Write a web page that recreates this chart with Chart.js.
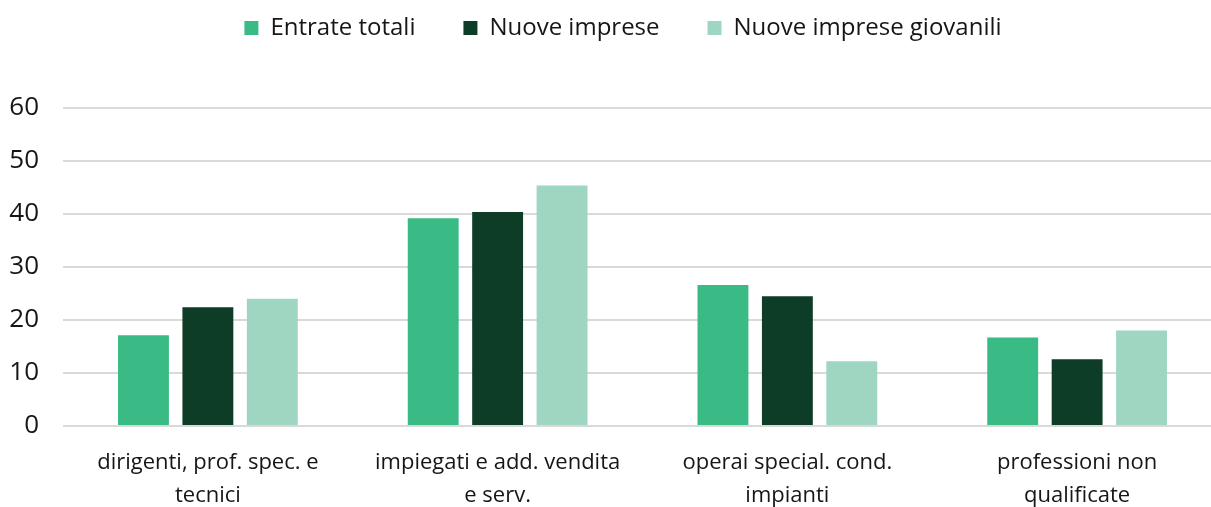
<!DOCTYPE html>
<html>
<head>
<meta charset="utf-8">
<script src="https://cdn.jsdelivr.net/npm/chart.js@4.4.1/dist/chart.umd.min.js"></script>
<style>
  html, body { margin: 0; padding: 0; background: #fff; overflow: hidden; }
  #wrap { width: 1246px; height: 507px; }
</style>
</head>
<body>
<div id="wrap"><canvas id="chart" width="1246" height="507"></canvas></div>
<script>
const categories = [
  ["dirigenti, prof. spec. e", "tecnici"],
  ["impiegati e add. vendita", "e serv."],
  ["operai special. cond.", "impianti"],
  ["professioni non", "qualificate"]
];
const entrateTotali = [17.1, 39.2, 26.6, 16.7];
const nuoveImprese = [22.4, 40.4, 24.5, 12.6];
const nuoveImpreseGiovanili = [24.0, 45.4, 12.2, 18.0];
const yTicks = [0, 10, 20, 30, 40, 50, 60];

const FONT = "'Open Sans', Lato, sans-serif";
const TEXT = "#161616";

// fixed legend block height so the plot starts where the original does
const legendHeight = {
  id: "legendHeight",
  beforeInit(chart) {
    const fit = chart.legend.fit;
    chart.legend.fit = function () {
      fit.call(this);
      this.height = 140;
    };
  }
};

new Chart(document.getElementById("chart").getContext("2d"), {
  type: "bar",
  data: {
    labels: categories,
    datasets: [
      { label: "Entrate totali", data: entrateTotali, backgroundColor: "#3aba85" },
      { label: "Nuove imprese", data: nuoveImprese, backgroundColor: "#0d3d27" },
      { label: "Nuove imprese giovanili", data: nuoveImpreseGiovanili, backgroundColor: "#9ed6c2" }
    ]
  },
  options: {
    responsive: false,
    animation: false,
    layout: { padding: { top: -32, left: 0, right: 0, bottom: 0 } },
    datasets: { bar: { categoryPercentage: 0.667, barPercentage: 0.79 } },
    plugins: {
      tooltip: { enabled: false },
      legend: {
        position: "top",
        labels: {
          boxWidth: 14,
          boxHeight: 14,
          padding: 48,
          color: TEXT,
          font: { family: FONT, size: 24 }
        }
      }
    },
    scales: {
      x: {
        grid: { display: false, drawTicks: false },
        border: { display: false },
        ticks: {
          color: TEXT,
          font: { family: FONT, size: 22, lineHeight: 1.5 },
          padding: 20,
          maxRotation: 0,
          autoSkip: false
        },
        afterFit(s) { s.height = 81; }
      },
      y: {
        min: 0,
        max: 60,
        afterBuildTicks(s) { s.ticks = yTicks.map(v => ({ value: v })); },
        grid: { color: "#d9d9d9", lineWidth: 2, drawTicks: false },
        border: { display: false },
        ticks: {
          color: TEXT,
          font: { family: FONT, size: 26 },
          padding: 24
        },
        afterFit(s) { s.width = 63; }
      },
      // empty right-hand axis: keeps the plot wider than the window like the original
      yRight: {
        position: "right",
        grid: { display: false, drawTicks: false },
        border: { display: false },
        ticks: { display: false },
        afterFit(s) { s.width = 24; }
      }
    }
  },
  plugins: [legendHeight]
});
</script>
</body>
</html>
